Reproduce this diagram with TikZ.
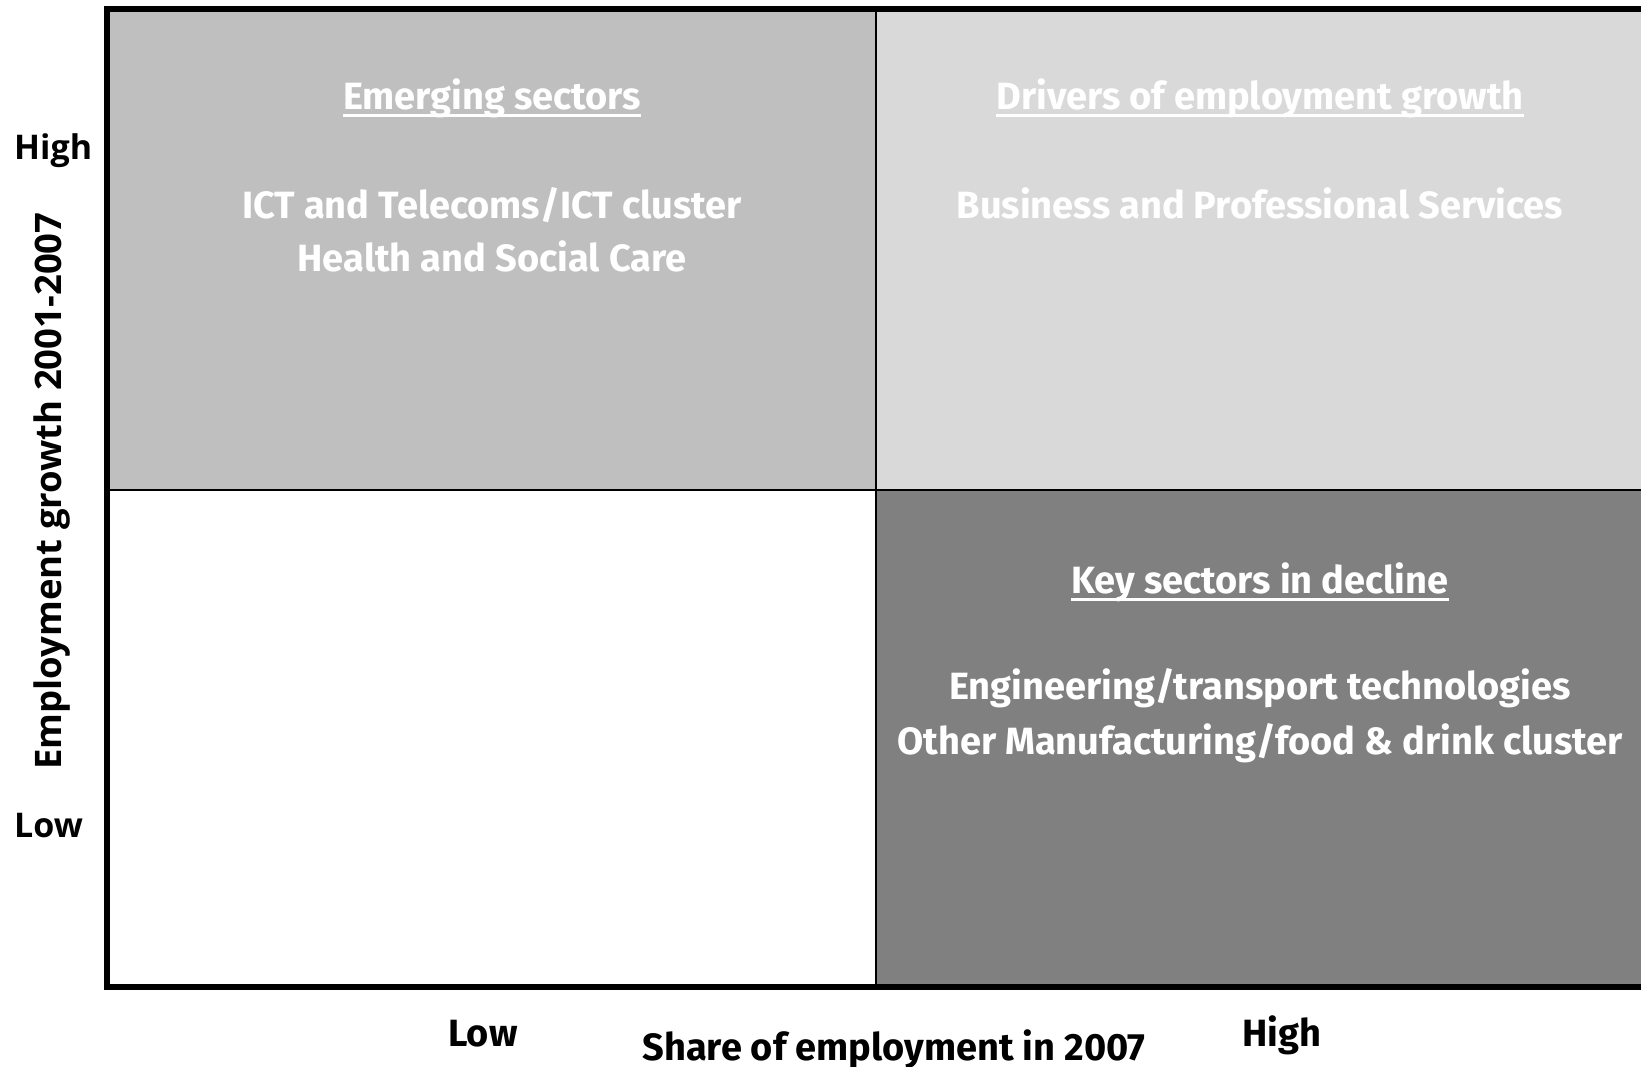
\documentclass[tikz,border=0pt]{standalone}
\usepackage{fontspec}
\setmainfont{Fira Sans}
\newfontfamily\axisfont{Open Sans}
\definecolor{qA}{HTML}{BFBFBF}
\definecolor{qB}{HTML}{D9D9D9}
\definecolor{qC}{HTML}{808080}
\begin{document}
\begin{tikzpicture}[x=1pt,y=-1pt,
  qtext/.style={text=white,font=\fontsize{38}{46}\selectfont\bfseries,inner sep=0pt,anchor=base},
  btext/.style={text=black,font=\fontsize{38}{46}\selectfont\bfseries,inner sep=0pt,anchor=base},
  axlab/.style={text=black,font=\axisfont\bfseries\fontsize{34}{42}\selectfont,inner sep=0pt},
  axtitle/.style={text=black,font=\axisfont\bfseries\fontsize{36.5}{44}\selectfont,inner sep=0pt},
  ul/.style={white,line width=3pt}]
\useasboundingbox (0,0) rectangle (1641,1067);
\fill[white] (0,0) rectangle (1641,1067);
% quadrants
\fill[qA] (107,9) rectangle (876,490);
\fill[qB] (876,9) rectangle (1641,490);
\fill[qC] (876,490) rectangle (1641,987);
% dividers
\draw[line width=2pt] (876,9) -- (876,987);
\draw[line width=2pt] (107,490) -- (1641,490);
% axes frame
\draw[line width=6pt,line join=miter] (1641,9) -- (107,9) -- (107,987) -- (1641,987);
% top-left
\node[qtext] (em) at (492,110) {Emerging sectors};
\draw[ul] ([yshift=-6pt]em.base west) -- ([yshift=-6pt]em.base east);
\node[qtext] (ict) at (492,219) {ICT and Telecoms/ICT cluster};
\node[qtext] (hsc) at (492,272) {Health and Social Care};
% top-right
\node[qtext] (dr) at (1260,110) {Drivers of employment growth};
\draw[ul] ([yshift=-6pt]dr.base west) -- ([yshift=-6pt]dr.base east);
\node[qtext] (bps) at (1260,219) {Business and Professional Services};
% bottom-right
\node[qtext] (key) at (1260,593) {Key sectors in decline};
\draw[ul] ([yshift=-6pt]key.base west) -- ([yshift=-6pt]key.base east);
\node[qtext] (eng) at (1260,699) {Engineering/transport technologies};
\node[qtext] (oth) at (1260,754) {Other Manufacturing/food \& drink cluster};
% y axis labels
\node[axlab,anchor=base west] (yhigh) at (14,160) {High};
\node[axlab,anchor=base west] (ylow) at (14,837) {Low};
\node[axtitle,rotate=90] (ytitle) at (52,491) {Employment growth 2001-2007};
% x axis labels
\node[btext] (xlow) at (483,1046) {Low};
\node[btext] (xhigh) at (1282,1046) {High};
\node[btext] (xtitle) at (894,1060) {Share of employment in 2007};
\end{tikzpicture}
\end{document}
